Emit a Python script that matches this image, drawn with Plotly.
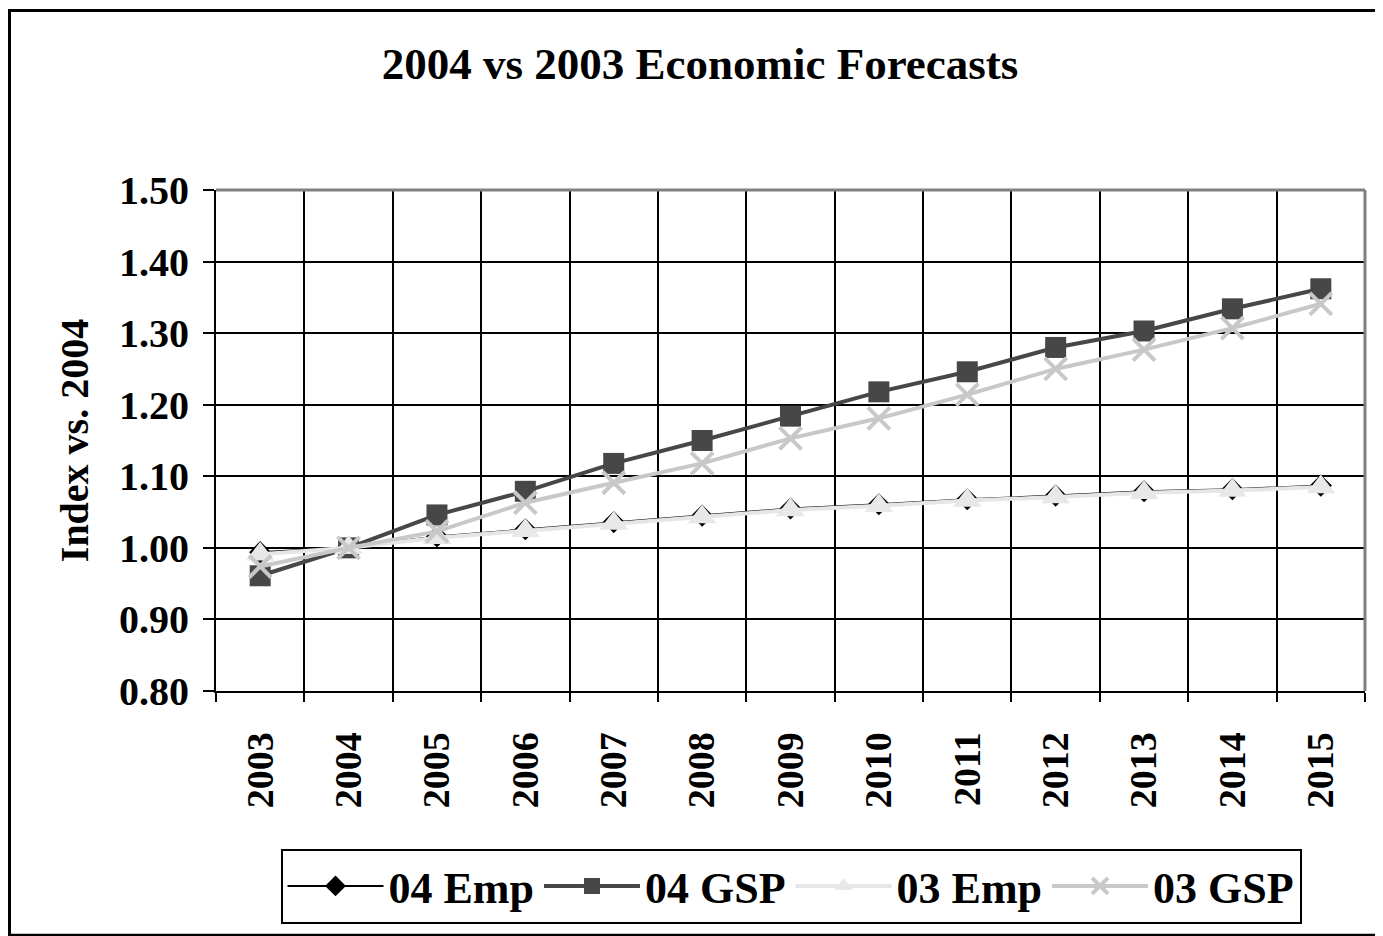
import plotly.graph_objects as go

years = ["2003", "2004", "2005", "2006", "2007", "2008", "2009", "2010",
         "2011", "2012", "2013", "2014", "2015"]
emp04 = [0.994, 1.001, 1.016, 1.026, 1.036, 1.045, 1.055, 1.061, 1.068, 1.073, 1.079, 1.082, 1.087]
gsp04 = [0.961, 1.000, 1.046, 1.079, 1.118, 1.150, 1.184, 1.218, 1.246, 1.280, 1.303, 1.334, 1.362]
emp03 = [0.991, 1.000, 1.014, 1.024, 1.034, 1.043, 1.053, 1.059, 1.066, 1.071, 1.077, 1.080, 1.085]
gsp03 = [0.974, 1.000, 1.023, 1.063, 1.091, 1.118, 1.153, 1.181, 1.214, 1.250, 1.277, 1.307, 1.341]
y_ticks = [0.8, 0.9, 1.0, 1.1, 1.2, 1.3, 1.4, 1.5]

FONT = "Liberation Serif"
OFF = 8  # page body margin
W, H = 1383 - OFF, 936 - OFF
L, R, T, B = 216, 1365, 190, 701  # target page pixels of plot area

fig = go.Figure()
fig.add_trace(go.Scatter(x=years, y=emp04, name="04 Emp", mode="lines+markers",
                         line=dict(color="#000000", width=2),
                         marker=dict(symbol="diamond", size=17, color="#000000")))
fig.add_trace(go.Scatter(x=years, y=gsp04, name="04 GSP", mode="lines+markers",
                         line=dict(color="#474747", width=4),
                         marker=dict(symbol="square", size=21, color="#474747")))
fig.add_trace(go.Scatter(x=years, y=emp03, name="03 Emp", mode="lines+markers",
                         line=dict(color="#e6e6e6", width=4),
                         marker=dict(symbol="triangle-up", size=25, color="#e8e8e8")))
fig.add_trace(go.Scatter(x=years, y=gsp03, name="03 GSP", mode="lines+markers",
                         line=dict(color="#c8c8c8", width=4),
                         marker=dict(symbol="x-thin-open", size=22,
                                     line=dict(color="#c8c8c8", width=4))))

pw = R - L
ph = B - T

def px(x):
    return (x - L) / pw

def py(y):
    return (B - y) / ph

shapes = [
    # outer chart frame
    dict(type="rect", xref="paper", yref="paper", x0=px(9.5), x1=px(1395), y0=py(7), y1=py(950),
         line=dict(color="#000000", width=3), fillcolor="rgba(0,0,0,0)", layer="below"),
    # gray top and right plot border
    dict(type="line", xref="paper", yref="paper", x0=0, x1=1, y0=1, y1=1,
         line=dict(color="#808080", width=3)),
    dict(type="line", xref="paper", yref="paper", x0=1, x1=1, y0=0, y1=1,
         line=dict(color="#808080", width=3)),
]

fig.update_layout(
    width=W, height=H,
    margin=dict(l=L - OFF, r=1383 - R, t=T - OFF, b=936 - B, pad=0),
    paper_bgcolor="white", plot_bgcolor="white",
    font=dict(family=FONT, color="#000000", weight="bold"),
    title=dict(text="<b>2004 vs 2003 Economic Forecasts</b>", x=(700 - OFF) / W, xref="container",
               xanchor="center", y=1 - (63 - OFF) / H, yanchor="middle",
               font=dict(size=45, family=FONT, weight="bold", color="#000000")),
    xaxis=dict(type="category", tickson="boundaries", showgrid=True,
               gridcolor="#000000", gridwidth=1.8, showline=True, linecolor="#000000",
               linewidth=2, ticks="outside", ticklen=9, tickwidth=2, tickcolor="#000000",
               tickangle=-90, tickfont=dict(size=38, family=FONT, weight="bold"),
               ticklabelstandoff=24, range=[-0.5, 12.5], zeroline=False),
    yaxis=dict(range=[0.8, 1.5], tickvals=y_ticks, tickformat=".2f", showgrid=True,
               gridcolor="#000000", gridwidth=1.8, showline=True, linecolor="#000000",
               linewidth=2, ticks="outside", ticklen=11, tickwidth=2, tickcolor="#000000",
               tickfont=dict(size=40, family=FONT, weight="bold"), zeroline=False,
               ticklabelstandoff=6,
               title=dict(text="Index vs. 2004", standoff=18,
                          font=dict(size=40, family=FONT, weight="bold"))),
    legend=dict(orientation="h", x=(791 - L) / pw, xanchor="center", y=py(862), yanchor="top",
                bordercolor="#000000", borderwidth=2, bgcolor="white",
                font=dict(size=44, family=FONT, weight="bold"),
                itemwidth=96, tracegroupgap=0),
    shapes=shapes,
    showlegend=True,
)

fig.write_html("out.html")
